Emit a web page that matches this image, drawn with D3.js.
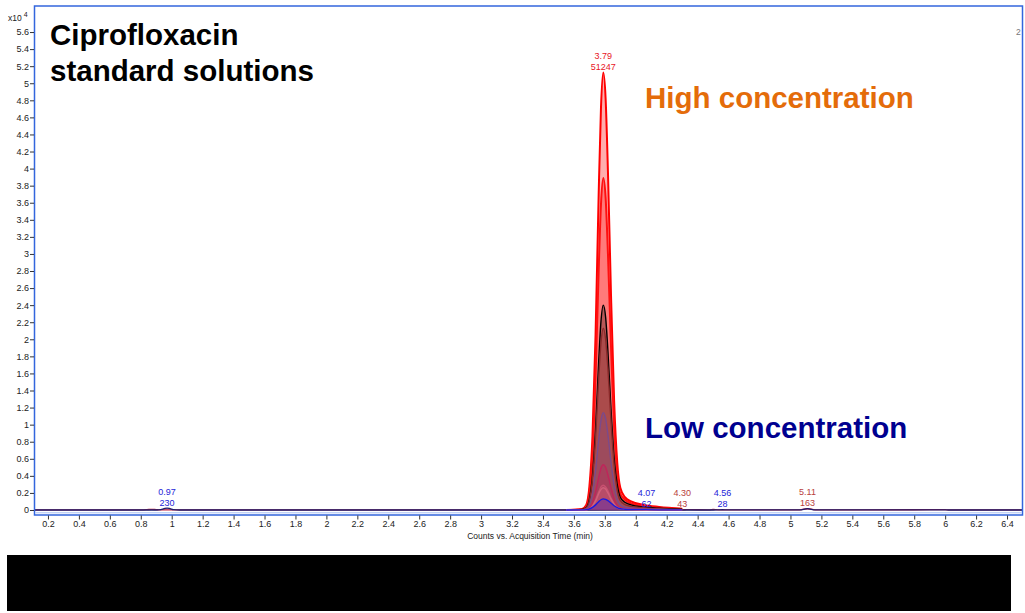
<!DOCTYPE html>
<html>
<head>
<meta charset="utf-8">
<script src="https://cdn.jsdelivr.net/npm/d3@7"></script>
<style>
  html, body { margin: 0; padding: 0; background: #fff; }
  svg { display: block; }
  text { font-family: "Liberation Sans", Arial, sans-serif; }
</style>
</head>
<body>
<svg id="chart" width="1025" height="613"></svg>
<script>
// Ciprofloxacin standard solutions: overlaid extracted chromatograms (counts x10^4)

// Sample times (min) across the main peak window
const peakTimes = [3.55, 3.65, 3.68, 3.70, 3.72, 3.74, 3.76, 3.775, 3.79, 3.805,
                   3.82, 3.84, 3.86, 3.88, 3.90, 3.93, 3.97, 4.05, 4.15, 4.30];

// Intensities (x10^4 counts) for each standard, highest to lowest
const stdHighest = [0, 0.01, 0.06, 0.27, 0.86, 2.05, 3.69, 4.71, 5.1247, 4.82,
                    3.97, 2.51, 1.28, 0.56, 0.26, 0.15, 0.10, 0.06, 0.036, 0.015];
const stdLevel2  = [0, 0.008, 0.047, 0.20, 0.65, 1.56, 2.80, 3.58, 3.89, 3.66,
                    3.01, 1.91, 0.97, 0.43, 0.19, 0.12, 0.078, 0.047, 0.027, 0.012];
const stdLevel3  = [0, 0.005, 0.029, 0.125, 0.40, 0.96, 1.73, 2.21, 2.40, 2.26,
                    1.86, 1.18, 0.62, 0.30, 0.15, 0.09, 0.06, 0.035, 0.02, 0.008];
const stdLevel4  = [0, 0.004, 0.026, 0.11, 0.36, 0.85, 1.53, 1.96, 2.13, 2.00,
                    1.65, 1.04, 0.53, 0.23, 0.11, 0.064, 0.043, 0.026, 0.015, 0.006];
const stdLevel5  = [0, 0.002, 0.014, 0.059, 0.19, 0.46, 0.82, 1.05, 1.14, 1.07,
                    0.88, 0.56, 0.285, 0.125, 0.057, 0.034, 0.023, 0.014, 0.008, 0.003];
const stdLevel6  = [0, 0.001, 0.006, 0.028, 0.089, 0.21, 0.38, 0.49, 0.53, 0.50,
                    0.41, 0.26, 0.13, 0.058, 0.027, 0.016, 0.011, 0.006, 0.004, 0.002];
const stdLevel7  = [0, 0.001, 0.003, 0.015, 0.048, 0.116, 0.21, 0.27, 0.29, 0.27,
                    0.225, 0.14, 0.073, 0.032, 0.015, 0.009, 0.006, 0.003, 0.002, 0.001];
const stdLevel8  = [0, 0.001, 0.003, 0.014, 0.043, 0.104, 0.19, 0.24, 0.26, 0.245,
                    0.20, 0.127, 0.065, 0.029, 0.013, 0.008, 0.005, 0.003, 0.002, 0.001];
const stdLowest  = [0, 0.001, 0.004, 0.012, 0.03, 0.06, 0.097, 0.12, 0.13, 0.125,
                    0.11, 0.08, 0.05, 0.028, 0.015, 0.009, 0.006, 0.004, 0.002, 0.001];

const traceColors = ["#ff0000", "#ff1010", "#000000", "#8b2a2a", "#7a4a8c",
                     "#c0245a", "#c85070", "#d0607a", "#1a1ae0"];

// Full-run baselines with the minor peaks
const baseTimes = [0.113, 0.80, 0.84, 0.87, 0.90, 0.93, 0.95, 0.97, 0.99, 1.01, 1.05,
                   3.55, 4.30, 4.04, 4.07, 4.10, 4.27, 4.33, 4.48, 4.50, 4.53, 4.56, 4.59,
                   5.06, 5.11, 5.16, 5.80, 6.00, 6.02, 6.50];
const baseBlue = [0, 0, 0, 0, 0, 0.004, 0.015, 0.023, 0.015, 0.004, 0,
                  0, 0, 0.001, 0.0062, 0.001, 0, 0, 0, 0, 0.001, 0.0028, 0.001,
                  0.001, 0.0163, 0.001, 0.001, 0.001, 0, 0];
const baseRed  = [0.001, 0.001, 0.004, 0.008, 0.004, 0.001, 0.001, 0.001, 0.001, 0.001, 0.001,
                  0.001, 0.001, 0.002, 0.002, 0.002, 0.002, 0.0043, 0.002, 0.006, 0.002, 0.001, 0.001,
                  0.002, 0.0163, 0.002, 0.003, 0.004, 0.001, 0.001];

// Peak annotations: retention time, height (counts), colour
const annoRT     = [3.79, 0.97, 4.07, 4.30, 4.56, 5.11];
const annoLabels = ["3.79", "0.97", "4.07", "4.30", "4.56", "5.11"];
const annoHeight = [51247, 230, 62, 43, 28, 163];
const annoColors = ["#e8141e", "#2424d8", "#2424d8", "#b8403c", "#2424d8", "#b8403c"];

// Axis ticks
const xTicks = [0.2, 0.4, 0.6, 0.8, 1, 1.2, 1.4, 1.6, 1.8, 2, 2.2, 2.4, 2.6, 2.8, 3, 3.2,
                3.4, 3.6, 3.8, 4, 4.2, 4.4, 4.6, 4.8, 5, 5.2, 5.4, 5.6, 5.8, 6, 6.2, 6.4];
const yTicks = [0, 0.2, 0.4, 0.6, 0.8, 1, 1.2, 1.4, 1.6, 1.8, 2, 2.2, 2.4, 2.6, 2.8, 3, 3.2,
                3.4, 3.6, 3.8, 4, 4.2, 4.4, 4.6, 4.8, 5, 5.2, 5.4, 5.6];

const svg = d3.select("#chart");
const plot = { left: 34.5, top: 6, right: 1022.5, bottom: 515 };

const x = d3.scaleLinear().domain([0.113, 6.50]).range([plot.left, plot.right]);
const y = d3.scaleLinear().domain([-0.0586, 5.905]).range([plot.bottom, plot.top]);

svg.append("defs").append("clipPath").attr("id", "clip")
  .append("rect").attr("x", plot.left).attr("y", plot.top)
  .attr("width", plot.right - plot.left).attr("height", plot.bottom - plot.top);

const g = svg.append("g").attr("clip-path", "url(#clip)");

const traces = [stdHighest, stdLevel2, stdLevel3, stdLevel4, stdLevel5,
                stdLevel6, stdLevel7, stdLevel8, stdLowest];

const area = d3.area().x(d => x(d[0])).y0(y(0)).y1(d => y(d[1])).curve(d3.curveMonotoneX);
const line = d3.line().x(d => x(d[0])).y(d => y(d[1])).curve(d3.curveMonotoneX);

// Baselines across the run
function pairs(ts, vs) { return ts.map((t, i) => [t, vs[i]]).sort((a, b) => a[0] - b[0]); }
const redBase = pairs(baseTimes, baseRed);
const blueBase = pairs(baseTimes, baseBlue);
g.append("path").datum(redBase).attr("d", area).attr("fill", "#e0506a").attr("opacity", 0.35);
g.append("path").datum(blueBase).attr("d", area).attr("fill", "#5a2a8a").attr("opacity", 0.3);
g.append("path").datum(redBase).attr("d", line).attr("fill", "none")
  .attr("stroke", "#c0203c").attr("stroke-width", 1.3);
g.append("path").datum(blueBase).attr("d", line).attr("fill", "none")
  .attr("stroke", "#1c1c6a").attr("stroke-width", 1.3);

// Filled peaks
traces.forEach((vals, i) => {
  const pts = peakTimes.map((t, j) => [t, vals[j]]);
  g.append("path").datum(pts).attr("d", area)
    .attr("fill", traceColors[i]).attr("opacity", i < 2 ? 0.32 : 0.28);
});
traces.forEach((vals, i) => {
  const pts = peakTimes.map((t, j) => [t, vals[j]]);
  g.append("path").datum(pts).attr("d", line).attr("fill", "none")
    .attr("stroke", traceColors[i]).attr("stroke-width", i < 2 ? 2 : 1.4)
    .attr("stroke-linejoin", "round");
});

// Plot frame
svg.append("rect")
  .attr("x", plot.left).attr("y", plot.top)
  .attr("width", plot.right - plot.left).attr("height", plot.bottom - plot.top)
  .attr("fill", "none").attr("stroke", "#3366dd").attr("stroke-width", 1.5);
svg.append("line")
  .attr("x1", plot.left + 1).attr("x2", plot.right - 1)
  .attr("y1", plot.bottom - 2.2).attr("y2", plot.bottom - 2.2)
  .attr("stroke", "#a8c0f4").attr("stroke-width", 1);

// Axes
const xAxis = d3.axisBottom(x).tickValues(xTicks).tickSize(4).tickSizeOuter(0)
  .tickFormat(d => String(d));
const xg = svg.append("g").attr("transform", `translate(0,${plot.bottom + 0.5})`).call(xAxis);
xg.select(".domain").remove();
xg.selectAll(".tick line").attr("stroke", "#333");
xg.selectAll(".tick text").attr("fill", "#222").attr("font-size", 9).attr("dy", "0.62em")
  .attr("y", 6);

const yAxis = d3.axisLeft(y).tickValues(yTicks).tickSize(4).tickSizeOuter(0)
  .tickFormat(d => String(d));
const yg = svg.append("g").attr("transform", `translate(${plot.left - 0.5},0)`).call(yAxis);
yg.select(".domain").remove();
yg.selectAll(".tick line").attr("stroke", "#333");
yg.selectAll(".tick text").attr("fill", "#222").attr("font-size", 9).attr("x", -5);

svg.append("text").attr("x", 530).attr("y", 539).attr("text-anchor", "middle")
  .attr("font-size", 8.5).attr("fill", "#222").text("Counts vs. Acquisition Time (min)");

const mult = svg.append("text").attr("x", 8).attr("y", 21).attr("font-size", 8.5).attr("fill", "#222");
mult.append("tspan").text("x10");
mult.append("tspan").attr("dx", 2).attr("dy", -4).attr("font-size", 7).text("4");

svg.append("text").attr("x", 1016).attr("y", 35).attr("font-size", 8.5).attr("fill", "#777").text("2");

// Peak annotations
annoRT.forEach((rt, i) => {
  const apex = y(annoHeight[i] / 10000);
  const t = svg.append("g").attr("fill", annoColors[i]).attr("font-size", 9)
    .attr("text-anchor", "middle");
  t.append("text").attr("x", x(rt)).attr("y", apex - 13.5).text(annoLabels[i]);
  t.append("text").attr("x", x(rt)).attr("y", apex - 2.5).text(String(annoHeight[i]));
});

// Titles
const title = svg.append("text").attr("font-size", 29.5).attr("font-weight", "bold").attr("fill", "#000");
title.append("tspan").attr("x", 50).attr("y", 45).text("Ciprofloxacin");
title.append("tspan").attr("x", 50).attr("y", 81).text("standard solutions");

svg.append("text").attr("x", 645).attr("y", 108).attr("font-size", 29.5).attr("font-weight", "bold")
  .attr("fill", "#e46c0a").text("High concentration");
svg.append("text").attr("x", 645).attr("y", 438).attr("font-size", 29.5).attr("font-weight", "bold")
  .attr("fill", "#000090").text("Low concentration");

// Footer band
svg.append("rect").attr("x", 7).attr("y", 555).attr("width", 1004).attr("height", 56).attr("fill", "#000");
</script>
</body>
</html>
